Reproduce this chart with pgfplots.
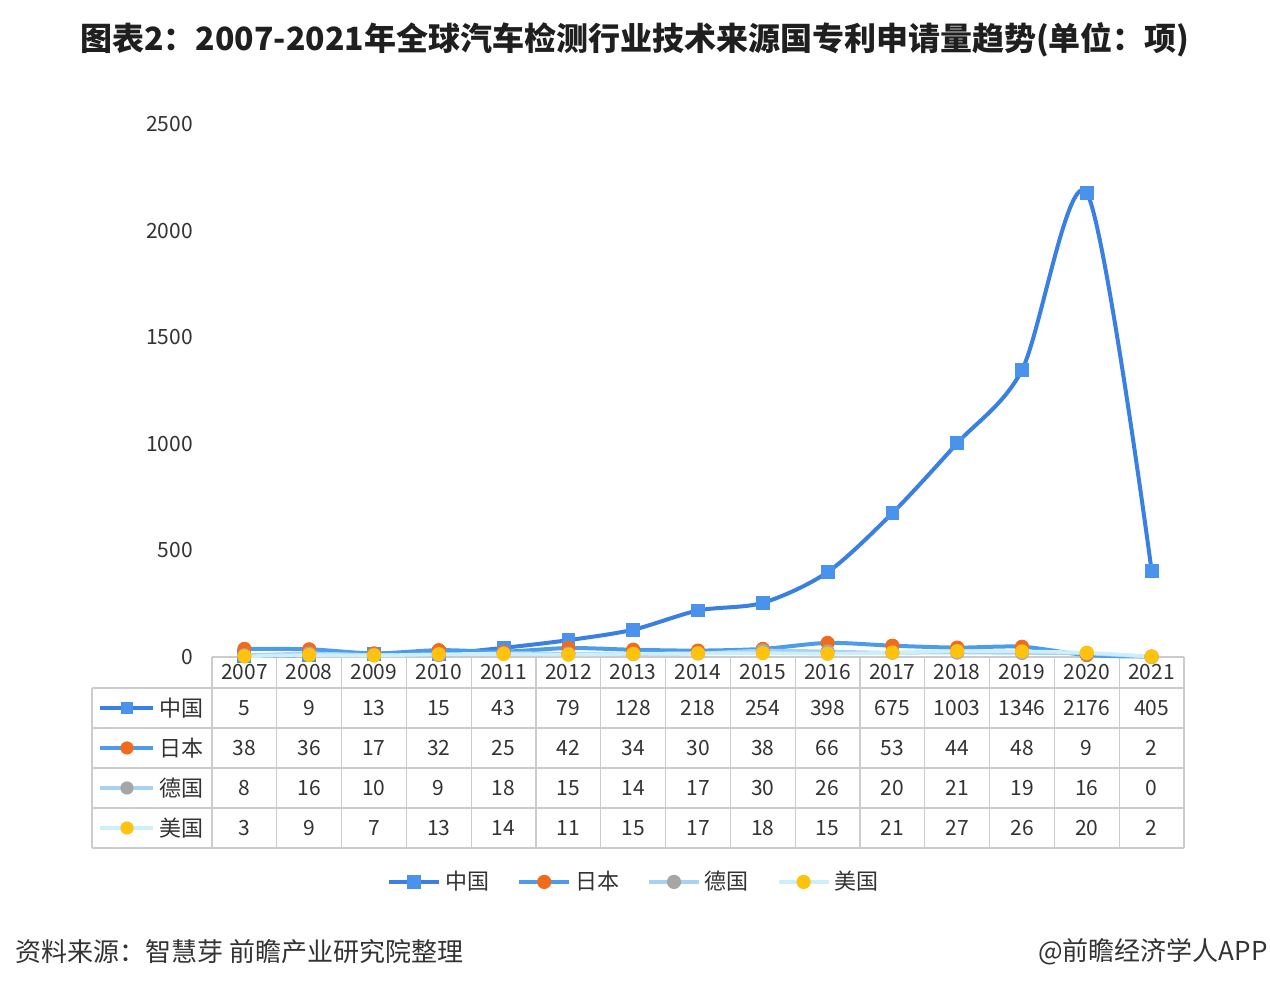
\documentclass[border=0pt]{standalone}
\usepackage{fontspec}
\setmainfont{Noto Sans CJK SC}
\usepackage{pgfplots}
\pgfplotsset{compat=1.18}
\usepackage{pgfplotstable}
\usetikzlibrary{calc}
\pgfdeclarelayer{background}
\pgfsetlayers{background,main}

\definecolor{cnline}{HTML}{3A80E2}
\definecolor{cnmark}{HTML}{4A93EC}
\definecolor{jpline}{HTML}{4C9CEB}
\definecolor{jpmark}{HTML}{F26B1D}
\definecolor{deline}{HTML}{A9D1F3}
\definecolor{demark}{HTML}{A6A6A6}
\definecolor{usline}{HTML}{CDEFFA}
\definecolor{usmark}{HTML}{FFC20E}
\definecolor{gridc}{HTML}{CCCCCC}
\definecolor{txt}{HTML}{333333}

% patent applications by country of origin
\pgfplotstableread{
year cn jp de us
2007 5 38 8 3
2008 9 36 16 9
2009 13 17 10 7
2010 15 32 9 13
2011 43 25 18 14
2012 79 42 15 11
2013 128 34 14 15
2014 218 30 17 17
2015 254 38 30 18
2016 398 66 26 15
2017 675 53 20 21
2018 1003 44 21 27
2019 1346 48 19 26
2020 2176 9 16 20
2021 405 2 0 2
}\patents

\newcommand\numfont{\fontsize{10.5}{12}\selectfont}
\newcommand\cjkfont{\fontsize{11}{13}\selectfont}

\begin{document}
\begin{tikzpicture}
\begin{axis}[scale only axis, width=486pt, height=266.5pt,
  xmin=2006.5, xmax=2021.5, ymin=0, ymax=2500, clip=false,
  axis line style={draw=none}, major tick length=0pt,
  xtick={2007,...,2021}, ytick={0,500,...,2500},
  /pgf/number format/.cd, 1000 sep={}, assume math mode=true, /pgfplots/.cd,
  xticklabel style={anchor=center, yshift=-7.75pt, font=\numfont, text=txt},
  yticklabel style={anchor=east, xshift=-6pt, font=\numfont, text=txt},
  legend style={at={(0.435,-0.422)}, anchor=center, draw=none, fill=none,
    font=\cjkfont, text=txt, legend columns=4,
    /tikz/every even column/.append style={column sep=12pt}},
  legend image code/.code={\draw[mark repeat=2, mark phase=2]
    plot coordinates {(0pt,0pt) (12.5pt,0pt) (25pt,0pt)};},
  nodes near coords style={anchor=center, font=\numfont, text=txt}]
\path (rel axis cs:0,0) coordinate (O);

\addplot[cnline, line width=2pt, smooth, mark=square*, mark size=3.2pt,
  mark options={fill=cnmark, draw=cnmark, line width=0.5pt}]
  table[x=year, y=cn] {\patents};
\addlegendentry{中国}
\addplot[jpline, line width=2pt, smooth, mark=*, mark size=3.3pt,
  mark options={fill=jpmark, draw=jpmark, line width=0.5pt}]
  table[x=year, y=jp] {\patents};
\addlegendentry{日本}
\addplot[deline, line width=1.8pt, smooth, mark=*, mark size=3.3pt,
  mark options={fill=demark, draw=demark, line width=0.5pt}]
  table[x=year, y=de] {\patents};
\addlegendentry{德国}
\addplot[usline, line width=1.8pt, smooth, mark=*, mark size=3.3pt,
  mark options={fill=usmark, draw=usmark, line width=0.5pt}]
  table[x=year, y=us] {\patents};
\addlegendentry{美国}

% values in the data table under the plot
\addplot[draw=none, mark=none, forget plot, nodes near coords, point meta=explicit symbolic]
  table[x=year, y expr=-239.2, meta=cn] {\patents};
\addplot[draw=none, mark=none, forget plot, nodes near coords, point meta=explicit symbolic]
  table[x=year, y expr=-426.8, meta=jp] {\patents};
\addplot[draw=none, mark=none, forget plot, nodes near coords, point meta=explicit symbolic]
  table[x=year, y expr=-614.5, meta=de] {\patents};
\addplot[draw=none, mark=none, forget plot, nodes near coords, point meta=explicit symbolic]
  table[x=year, y expr=-802.0, meta=us] {\patents};
\end{axis}

\begin{pgfonlayer}{background}
\draw[gridc, line width=0.6pt] (O) -- ++(486pt,0);
\foreach \r in {15.5,35.5,55.5,75.5,95.5}
  \draw[gridc, line width=0.6pt] ($(O)+(-60pt,-\r pt)$) -- ++(546pt,0);
\draw[gridc, line width=0.6pt] ($(O)+(-60pt,-15.5pt)$) -- ++(0,-80pt);
\foreach \i in {0,...,15}
  \draw[gridc, line width=0.6pt] ($(O)+(\i*32.4pt,0)$) -- ++(0,-95.5pt);
\end{pgfonlayer}

% row keys of the table
\draw[cnline, line width=2pt] ($(O)+(-56pt,-25.5pt)$) -- ++(26.5pt,0);
\fill[cnmark] ($(O)+(-42.5pt,-25.5pt)$) +(-3.2pt,-3.2pt) rectangle +(3.2pt,3.2pt);
\draw[jpline, line width=2pt] ($(O)+(-56pt,-45.5pt)$) -- ++(26.5pt,0);
\fill[jpmark] ($(O)+(-42.5pt,-45.5pt)$) circle (3.3pt);
\draw[deline, line width=1.8pt] ($(O)+(-56pt,-65.5pt)$) -- ++(26.5pt,0);
\fill[demark] ($(O)+(-42.5pt,-65.5pt)$) circle (3.3pt);
\draw[usline, line width=1.8pt] ($(O)+(-56pt,-85.5pt)$) -- ++(26.5pt,0);
\fill[usmark] ($(O)+(-42.5pt,-85.5pt)$) circle (3.3pt);
\node[font=\cjkfont, text=txt] at ($(O)+(-15pt,-25.5pt)$) {中国};
\node[font=\cjkfont, text=txt] at ($(O)+(-15pt,-45.5pt)$) {日本};
\node[font=\cjkfont, text=txt] at ($(O)+(-15pt,-65.5pt)$) {德国};
\node[font=\cjkfont, text=txt] at ($(O)+(-15pt,-85.5pt)$) {美国};

% title and footer
\node[font=\fontsize{16}{19}\selectfont\bfseries, text=black!88] at ($(O)+(211.5pt,308.5pt)$)
  {图表2：2007-2021年全球汽车检测行业技术来源国专利申请量趋势(单位：项)};
\node[anchor=west, font=\fontsize{13}{15}\selectfont, text=txt, inner sep=0pt] at ($(O)+(-98.5pt,-147.5pt)$)
  {资料来源：智慧芽 前瞻产业研究院整理};
\node[anchor=east, font=\fontsize{13}{15}\selectfont, text=txt, inner sep=0pt] at ($(O)+(528pt,-147.5pt)$)
  {@前瞻经济学人APP};

\path ($(O)+(-106pt,-168.5pt)$) rectangle ($(O)+(529pt,328.5pt)$);
\end{tikzpicture}
\end{document}
